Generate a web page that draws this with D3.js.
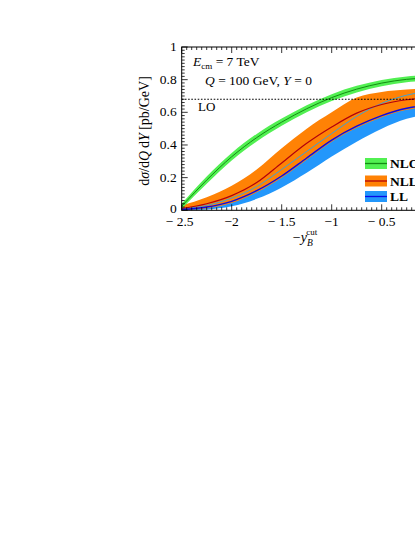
<!DOCTYPE html>
<html><head><meta charset="utf-8">
<script src="https://cdn.jsdelivr.net/npm/d3@7"></script>
<style>
html,body{margin:0;padding:0;background:#fff;overflow:hidden;}
svg{display:block;}
text{font-family:"Liberation Serif","DejaVu Serif",serif;fill:#000;}
</style></head>
<body>
<script>
// ---- data ----
const xs       = [-2.5, -2.25, -2.0, -1.75, -1.5, -1.25, -1.0, -0.75, -0.5, -0.25, 0.0];
const nloMid   = [0.025, 0.185, 0.328, 0.445, 0.54, 0.622, 0.69, 0.742, 0.779, 0.802, 0.812];
const nloLo    = [0.01, 0.163, 0.305, 0.422, 0.518, 0.6, 0.669, 0.722, 0.76, 0.784, 0.795];
const nloHi    = [0.04, 0.207, 0.351, 0.468, 0.562, 0.644, 0.711, 0.762, 0.798, 0.82, 0.829];
const nllMid   = [0.01, 0.04, 0.09, 0.17, 0.29, 0.41, 0.51, 0.595, 0.648, 0.677, 0.69];
const nllAlt   = [0.01, 0.03, 0.075, 0.145, 0.25, 0.36, 0.47, 0.575, 0.655, 0.705, 0.73];
const nllHi    = [0.03, 0.08, 0.15, 0.25, 0.38, 0.5, 0.6, 0.69, 0.725, 0.74, 0.745];
const nllLo    = [0.003, 0.013, 0.045, 0.11, 0.2, 0.31, 0.42, 0.505, 0.57, 0.615, 0.635];
const llMid    = [0.005, 0.02, 0.055, 0.12, 0.21, 0.32, 0.43, 0.515, 0.58, 0.625, 0.645];
const llLo     = [0.0, 0.005, 0.025, 0.07, 0.14, 0.23, 0.33, 0.42, 0.5, 0.56, 0.59];
const llHi     = [0.02, 0.05, 0.1, 0.18, 0.28, 0.39, 0.5, 0.58, 0.64, 0.68, 0.7];
const loValue  = 0.68;
const xTicks   = [-2.5, -2.0, -1.5, -1.0, -0.5];
const xTickLabels = ["\u2212 2.5", "\u22122", "\u2212 1.5", "\u22121", "\u2212 0.5"];
const yTicks   = [0, 0.2, 0.4, 0.6, 0.8, 1];
const yTickLabels = ["0", "0.2", "0.4", "0.6", "0.8", "1"];
const legendNames = ["NLO", "NLL", "LL"];

// ---- layout ----
const W = 415, H = 537;
const L = 181.7, R = 431.7, T = 47, B = 210.3;
const x = d3.scaleLinear().domain([-2.5, 0]).range([L, R]);
const y = d3.scaleLinear().domain([0, 1]).range([B, T]);

const svg = d3.select("body").append("svg").attr("width", W).attr("height", H);
svg.append("defs").append("clipPath").attr("id","clip")
  .append("rect").attr("x", L).attr("y", T).attr("width", R-L).attr("height", B-T);

const g = svg.append("g").attr("clip-path","url(#clip)");
const idx = d3.range(xs.length);
const curve = d3.curveMonotoneX;
const area = (lo, hi) => d3.area().curve(curve).x(i => x(xs[i])).y0(i => y(lo[i])).y1(i => y(hi[i]))(idx);
const line = (v) => d3.line().curve(curve).x(i => x(xs[i])).y(i => y(v[i]))(idx);

const cGreen = "#52f052", cGreenLine = "#138a13";
const cOrange = "#ff8205", cRed = "#b3000c", cCyan = "#3ca0d8";
const cBlue = "#2397fb", cBlueLine = "#0a0ae6";

g.append("path").attr("d", area(llLo, llHi)).attr("fill", cBlue);
g.append("path").attr("d", area(nllLo, nllHi)).attr("fill", cOrange);
g.append("path").attr("d", area(nloLo, nloHi)).attr("fill", cGreen);
g.append("path").attr("d", line(nllAlt)).attr("fill","none").attr("stroke", cCyan).attr("stroke-width", 1);
g.append("path").attr("d", line(nllMid)).attr("fill","none").attr("stroke", cRed).attr("stroke-width", 1.2);
g.append("path").attr("d", line(llMid)).attr("fill","none").attr("stroke", cBlueLine).attr("stroke-width", 1.4);
g.append("path").attr("d", line(nloMid)).attr("fill","none").attr("stroke", cGreenLine).attr("stroke-width", 1);

// LO dotted line
g.append("line").attr("x1", L).attr("x2", R).attr("y1", y(loValue)).attr("y2", y(loValue))
  .attr("stroke", "#000").attr("stroke-width", 1.2).attr("stroke-dasharray", "1.6,1.6");

// frame
svg.append("rect").attr("x", L).attr("y", T).attr("width", R-L).attr("height", B-T)
  .attr("fill","none").attr("stroke","#000").attr("stroke-width",1);

// ticks (inward)
const tg = svg.append("g").attr("stroke","#000").attr("stroke-width",0.8);
const xMinor = d3.range(-2.5, 0.0001, 0.05);
xMinor.forEach(v => {
  const major = Math.abs(v*2 - Math.round(v*2)) < 1e-6;
  const len = major ? 6 : 3;
  tg.append("line").attr("x1", x(v)).attr("x2", x(v)).attr("y1", B).attr("y2", B-len);
  tg.append("line").attr("x1", x(v)).attr("x2", x(v)).attr("y1", T).attr("y2", T+len);
});
const yMinor = d3.range(0, 1.0001, 0.02);
yMinor.forEach(v => {
  const major = Math.abs(v*5 - Math.round(v*5)) < 1e-6;
  const len = major ? 6 : 3;
  tg.append("line").attr("x1", L).attr("x2", L+len).attr("y1", y(v)).attr("y2", y(v));
});

// tick labels
xTicks.forEach((v,i) => {
  svg.append("text").attr("x", x(v) + (i===0 ? -2 : 0)).attr("y", B+16).attr("text-anchor","middle")
    .attr("font-size", 13.5).text(xTickLabels[i]);
});
yTicks.forEach((v,i) => {
  svg.append("text").attr("x", L-5).attr("y", y(v)+4 - (i===0 ? 1 : 0)).attr("text-anchor","end")
    .attr("font-size", 13.5).text(yTickLabels[i]);
});

// axis titles
const xt = svg.append("text").attr("x", 305).attr("y", 242).attr("text-anchor","middle").attr("font-size", 14);
xt.append("tspan").text("\u2212");
xt.append("tspan").attr("font-style","italic").text("y");
xt.append("tspan").attr("font-style","italic").attr("font-size", 9.5).attr("dy", 4).text("B");
xt.append("tspan").attr("font-size", 9).attr("dx", -6.5).attr("dy", -11).text("cut");

const yt = svg.append("text").attr("transform", "translate(149,131) rotate(-90)").attr("text-anchor","middle").attr("font-size", 14);
yt.append("tspan").text("d");
yt.append("tspan").attr("font-style","italic").text("\u03c3");
yt.append("tspan").text("/d");
yt.append("tspan").attr("font-style","italic").text("Q");
yt.append("tspan").text("\u2009d");
yt.append("tspan").attr("font-style","italic").text("Y");
yt.append("tspan").text("  [pb/GeV]");

// annotations
const t1 = svg.append("text").attr("x", 193).attr("y", 66).attr("font-size", 13.5);
t1.append("tspan").attr("font-style","italic").text("E");
t1.append("tspan").attr("font-size", 9).attr("dy", 3).text("cm");
t1.append("tspan").attr("dy", -3).text(" = 7 TeV");
const t2 = svg.append("text").attr("x", 205).attr("y", 85).attr("font-size", 13.5);
t2.append("tspan").attr("font-style","italic").text("Q");
t2.append("tspan").text(" = 100 GeV, ");
t2.append("tspan").attr("font-style","italic").text("Y");
t2.append("tspan").text(" = 0");
svg.append("text").attr("x", 198).attr("y", 111).attr("font-size", 13).text("LO");

// legend
const legFill = [cGreen, cOrange, cBlue];
const legLine = [cGreenLine, cRed, cBlueLine];
const legY = [163.5, 181, 196.5];
legendNames.forEach((n,i) => {
  svg.append("rect").attr("x", 365).attr("y", legY[i]-5.5).attr("width", 22).attr("height", 11).attr("fill", legFill[i]);
  svg.append("line").attr("x1", 365).attr("x2", 387).attr("y1", legY[i]).attr("y2", legY[i])
    .attr("stroke", legLine[i]).attr("stroke-width", 1.3);
  svg.append("text").attr("x", 390).attr("y", legY[i]+4.5).attr("font-size", 13.5).attr("font-weight","bold").text(n);
});
</script>
</body></html>
